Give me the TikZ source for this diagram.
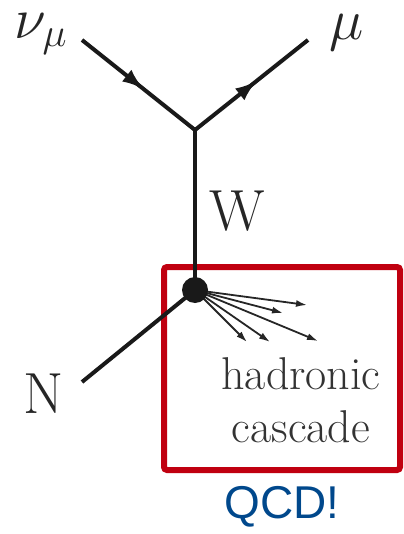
\RequirePackage{fix-cm}
\documentclass[tikz,border=0pt]{standalone}
\usepackage{fontspec}
\usetikzlibrary{arrows.meta, positioning, decorations.markings}
\newfontfamily\qcdfont{Liberation Sans}
\definecolor{boxred}{RGB}{192,0,16}
\definecolor{qcdblue}{RGB}{0,72,140}
\tikzset{
    fermion/.style={
        line width=2pt, draw=black!90,
        postaction={decorate},
        decoration={markings,
            mark=at position 0.55 with {\arrow{Latex[length=11pt,width=7.5pt]}}}
    },
    boson/.style={line width=2pt, draw=black!90},
    spray/.style={-{Latex[length=5.5pt,width=3.5pt]}, line width=0.9pt, draw=black!85},
    vertexblob/.style={circle, fill=black!90, minimum size=13pt, inner sep=0pt},
    lbl/.style={font=\fontsize{29}{33}\selectfont, inner sep=0pt, text=black!85},
    cascade/.style={font=\fontsize{23}{26.5}\selectfont, align=center, inner sep=0pt, text=black!80},
    qcdbox/.style={draw=boxred, line width=3pt, rounded corners=1.5pt},
    qcdlabel/.style={font=\qcdfont\fontsize{23}{26}\selectfont, text=qcdblue, inner sep=0pt}
}
\begin{document}
\begin{tikzpicture}[x=0.5pt, y=-0.5pt]
    \useasboundingbox (0,0) rectangle (403,534);

    % the box goes under the lines
    \draw[qcdbox] (164,267) rectangle (400,470);

    \coordinate (vtx) at (195,130);
    \coordinate (blob) at (195,290);
    \coordinate (nuin) at (82,40);
    \coordinate (muout) at (308,40);
    \coordinate (nin) at (82,382);

    \draw[fermion] (nuin) -- (vtx);
    \draw[fermion] (vtx) -- (muout);
    \draw[boson] (vtx) -- (blob);
    \draw[boson] (nin) -- (blob);

    % hadron spray
    \foreach \tip in {(307,305), (283,313), (318,341), (270,342), (247,342)}
        \draw[spray] (blob) -- \tip;
    \node[vertexblob] (hadrons) at (blob) {};

    \node[lbl] (numu) at (41,34) {$\nu_\mu$};
    \node[lbl] (mu) at (347,33) {$\mu$};
    \node[lbl] (w) at (237,211) {W};
    \node[lbl] (n) at (44,394) {N};
    \node[cascade] (hadr) at (301,400) {hadronic\\cascade};
    \node[qcdlabel] (qcd) at (282,507) {QCD!};
\end{tikzpicture}
\end{document}
